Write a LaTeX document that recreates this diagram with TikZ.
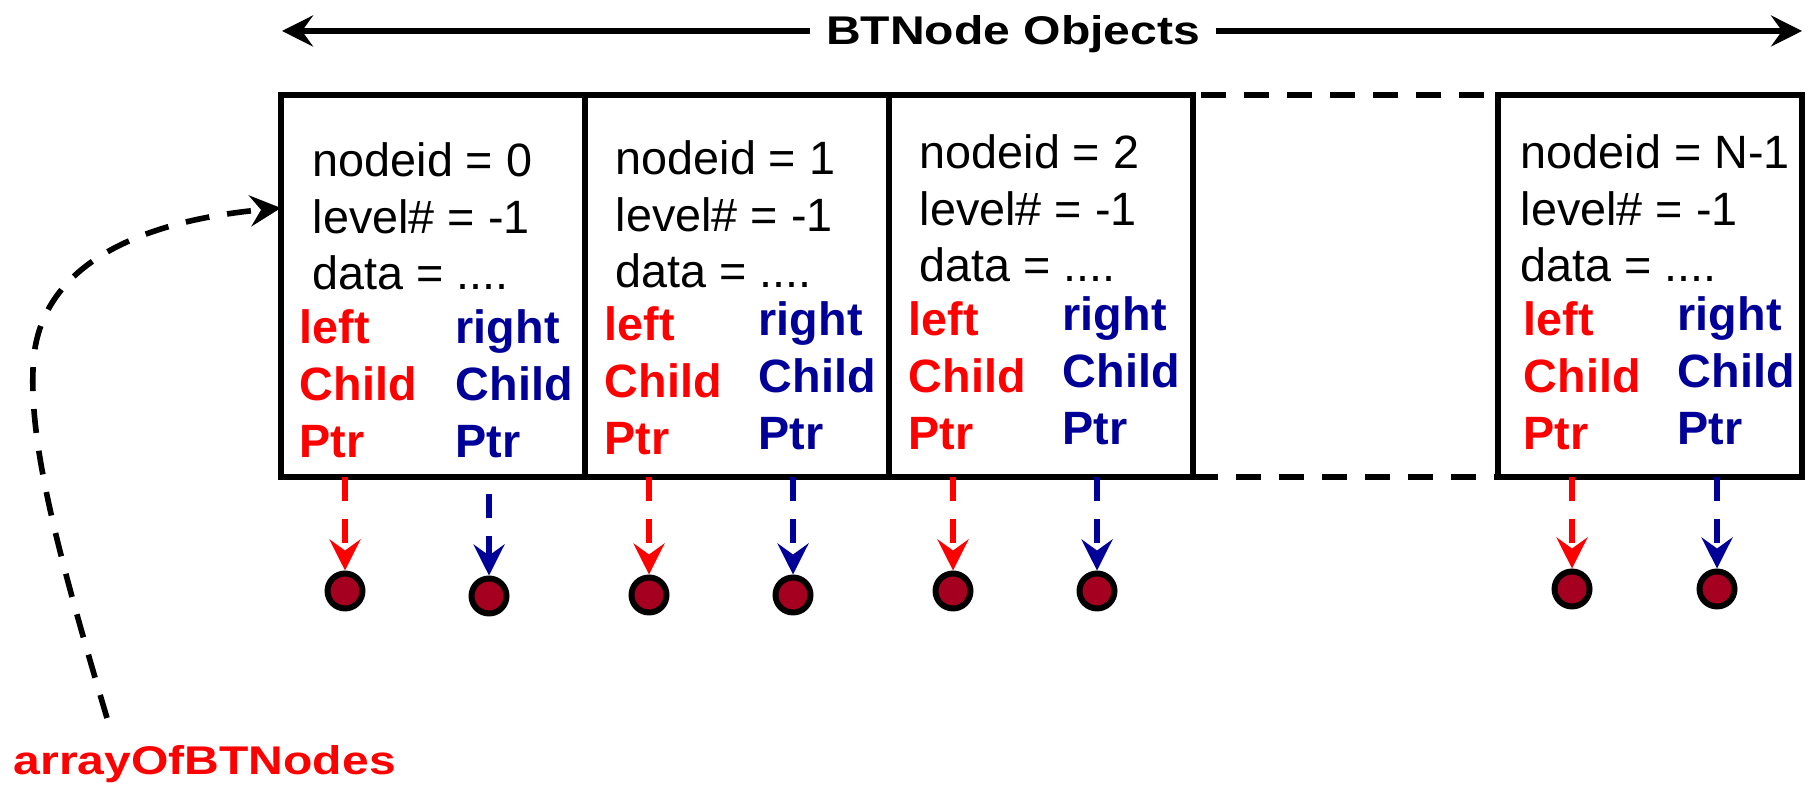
\documentclass[tikz,border=0pt]{standalone}
\usepackage{fontspec}
\setmainfont{Liberation Sans}
\newfontfamily\widefont{Liberation Sans}[FakeStretch=1.2]
\usetikzlibrary{arrows.meta,calc}
\definecolor{ptrred}{RGB}{255,0,0}
\definecolor{ptrblue}{RGB}{0,0,153}
\definecolor{dotred}{RGB}{166,0,33}
\tikzset{>={Stealth[length=3.1mm,width=3.1mm,inset=1.1mm]}}
\tikzset{
  objbox/.style={draw,line width=1.7pt,minimum width=3.04cm,minimum height=3.82cm,inner sep=0pt,outer sep=0pt},
  fields/.style={anchor=base west,inner sep=0pt,align=left,font=\fontsize{13.3pt}{16.1pt}\selectfont},
  leftptr/.style={fields,text=ptrred,font=\fontsize{13.3pt}{16.3pt}\selectfont\bfseries},
  rightptr/.style={leftptr,text=ptrblue},
  ptrdot/.style={circle,draw,fill=dotred,line width=1.7pt,minimum size=3.5mm,inner sep=0pt},
  redlink/.style={->,dash pattern=on 2.4mm off 1.8mm,line width=1.6pt,ptrred},
  bluelink/.style={redlink,ptrblue},
  bigbold/.style={font=\widefont\fontsize{11.4pt}{13pt}\selectfont\bfseries}
}

\begin{document}
\begin{tikzpicture}
  \useasboundingbox (0,0) rectangle (18.11,7.86);

  % Boxes
  \node[objbox] (box1) at (4.33,5.00) {};
  \node[objbox] (box2) at (7.37,5.00) {};
  \node[objbox] (box3) at (10.41,5.00) {};
  \node[objbox] (box4) at (16.50,5.00) {};
  \draw[line width=1.7pt,dash pattern=on 2.5mm off 1.8mm,dash phase=-0.8mm] (box3.north east) -- (box4.north west);
  \draw[line width=1.7pt,dash pattern=on 2.5mm off 1.8mm] (box3.south east) -- (box4.south west);

  % Fields (anchored on the last line)
  \node[fields] (f1) at (3.12,4.96) {nodeid = 0\\level\# = -1\\data = ....};
  \node[fields] (f2) at (6.15,4.98) {nodeid = 1\\level\# = -1\\data = ....};
  \node[fields] (f3) at (9.19,5.04) {nodeid = 2\\level\# = -1\\data = ....};
  \node[fields] (f4) at (15.20,5.04) {nodeid = N-1\\level\# = -1\\data = ....};

  % Child pointers
  \node[leftptr] (lp1) at (2.99,3.28) {left\\Child\\Ptr};
  \node[rightptr] (rp1) at (4.55,3.28) {right\\Child\\Ptr};
  \node[leftptr] (lp2) at (6.04,3.31) {left\\Child\\Ptr};
  \node[rightptr] (rp2) at (7.58,3.36) {right\\Child\\Ptr};
  \node[leftptr] (lp3) at (9.08,3.36) {left\\Child\\Ptr};
  \node[rightptr] (rp3) at (10.62,3.41) {right\\Child\\Ptr};
  \node[leftptr] (lp4) at (15.23,3.36) {left\\Child\\Ptr};
  \node[rightptr] (rp4) at (16.77,3.41) {right\\Child\\Ptr};

  % Null ends
  \node[ptrdot] (l1) at (3.45,1.95) {};
  \node[ptrdot] (r1) at (4.89,1.90) {};
  \node[ptrdot] (l2) at (6.49,1.91) {};
  \node[ptrdot] (r2) at (7.93,1.91) {};
  \node[ptrdot] (l3) at (9.53,1.95) {};
  \node[ptrdot] (r3) at (10.97,1.95) {};
  \node[ptrdot] (l4) at (15.72,1.97) {};
  \node[ptrdot] (r4) at (17.17,1.97) {};

  % Links
  \draw[redlink] (box1.south -| l1) -- (l1);
  \draw[bluelink] ($(box1.south -| r1)+(0,-0.17)$) -- (r1);
  \draw[redlink] (box2.south -| l2) -- (l2);
  \draw[bluelink] (box2.south -| r2) -- (r2);
  \draw[redlink] (box3.south -| l3) -- (l3);
  \draw[bluelink] (box3.south -| r3) -- (r3);
  \draw[redlink] (box4.south -| l4) -- (l4);
  \draw[bluelink] (box4.south -| r4) -- (r4);

  % Title
  \node[bigbold,anchor=base,inner sep=1.5mm] (title) at (10.13,7.41) {BTNode Objects};
  \coordinate (tl) at (2.82,7.55);
  \coordinate (tr) at (18.02,7.55);
  \draw[->,line width=1.9pt] (title.west |- tl) -- (tl);
  \draw[->,line width=1.9pt] (title.east |- tr) -- (tr);

  % Array pointer
  \node[bigbold,anchor=base west,inner sep=0pt,text=ptrred] (arr) at (0.13,0.11) {arrayOfBTNodes};
  \coordinate (arrtop) at (1.07,0.68);
  \draw[->,line width=1.6pt,dash pattern=on 2.4mm off 1.8mm] (arrtop) .. controls (0.60,2.26) and (0.30,3.36) .. (0.33,4.16)
    .. controls (0.35,5.26) and (1.50,5.66) .. ([yshift=0.78cm]box1.west);
\end{tikzpicture}
\end{document}
